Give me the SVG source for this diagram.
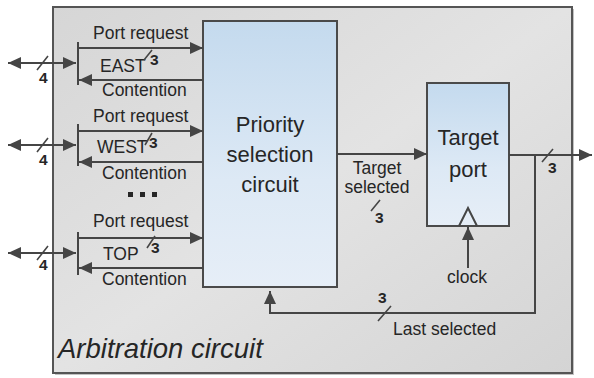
<svg xmlns="http://www.w3.org/2000/svg" width="594" height="378" viewBox="0 0 594 378">
<defs>
<linearGradient id="gOuter" x1="0" y1="0" x2="1" y2="1">
<stop offset="0" stop-color="#d6d6d6"/>
<stop offset="0.5" stop-color="#e3e3e3"/>
<stop offset="1" stop-color="#d4d4d4"/>
</linearGradient>
<linearGradient id="gBlue" x1="0" y1="0" x2="0" y2="1">
<stop offset="0" stop-color="#c4daee"/>
<stop offset="0.6" stop-color="#dde9f5"/>
<stop offset="1" stop-color="#e6eef7"/>
</linearGradient>
<marker id="ah" markerUnits="userSpaceOnUse" markerWidth="14" markerHeight="12" refX="13" refY="6" orient="auto-start-reverse">
<path d="M0,0 L13,6 L0,12 z" fill="#454545"/>
</marker>
<style>
.ln{stroke:#454545;stroke-width:2;fill:none}
.sl{stroke:#454545;stroke-width:1.6;fill:none}
.box{stroke:#4a4a4a;stroke-width:2;fill:url(#gBlue)}
text{font-family:"Liberation Sans",Arial,sans-serif;fill:#262626}
.lb{font-size:17.5px}
.big{font-size:22px;text-anchor:middle}
.n{font-size:15.5px;font-weight:bold}
</style>
</defs>
<g id="arbitration-circuit">
<rect x="55" y="9" width="519" height="366" fill="#9a9a9a" opacity="0.6"/>
<rect x="53" y="7" width="519" height="366" fill="url(#gOuter)" stroke="#555" stroke-width="2"/>
<text x="58" y="358" font-size="27.5" font-style="italic">Arbitration circuit</text>
</g>
<g id="priority-selection-circuit">
<rect class="box" x="203" y="21" width="134" height="266"/>
<text class="big" x="270" y="132">Priority</text>
<text class="big" x="270" y="162">selection</text>
<text class="big" x="270" y="192">circuit</text>
</g>
<g id="target-port">
<rect class="box" x="427" y="83" width="82" height="143"/>
<text class="big" x="468" y="145">Target</text>
<text class="big" x="468" y="177">port</text>
<polyline class="ln" points="459,226 468,208 477,226" stroke-width="1.6"/>
</g>
<g id="port-east">
<line class="ln" x1="78" y1="42" x2="78" y2="85"/>
<text class="lb" x="93" y="39">Port request</text>
<text class="lb" x="100" y="72">EAST</text>
<text class="n" x="150" y="65">3</text>
<text class="lb" x="102" y="96">Contention</text>
<text class="n" x="39" y="83">4</text>
</g>
<g id="port-west">
<line class="ln" x1="78" y1="124" x2="78" y2="166"/>
<text class="lb" x="93" y="122">Port request</text>
<text class="lb" x="97" y="153">WEST</text>
<text class="n" x="149" y="148">3</text>
<text class="lb" x="102" y="179">Contention</text>
<text class="n" x="39" y="165">4</text>
</g>
<g id="ellipsis">
<rect x="128" y="192" width="5" height="5" fill="#262626"/>
<rect x="140" y="192" width="5" height="5" fill="#262626"/>
<rect x="152" y="192" width="5" height="5" fill="#262626"/>
</g>
<g id="port-top">
<line class="ln" x1="78" y1="232" x2="78" y2="275"/>
<text class="lb" x="93" y="227">Port request</text>
<text class="lb" x="103" y="260">TOP</text>
<text class="n" x="151" y="253">3</text>
<text class="lb" x="102" y="285">Contention</text>
<text class="n" x="39" y="270">4</text>
</g>
<g id="labels-right">
<text class="lb" x="377" y="174" text-anchor="middle">Target</text>
<text class="lb" x="377" y="193" text-anchor="middle">selected</text>
<text class="n" x="375" y="223">3</text>
<text class="n" x="548" y="173">3</text>
<text class="lb" x="467" y="283" text-anchor="middle">clock</text>
<text class="n" x="378" y="303">3</text>
<text class="lb" x="393" y="335">Last selected</text>
</g>
<g id="connectors">
<path class="ln" d="M78,48 H203" marker-end="url(#ah)"/>
<path class="ln" d="M203,80 H79" marker-end="url(#ah)"/>
<path class="ln" d="M8,63 H76" marker-start="url(#ah)" marker-end="url(#ah)"/>
<path class="ln" d="M78,131 H203" marker-end="url(#ah)"/>
<path class="ln" d="M203,162 H79" marker-end="url(#ah)"/>
<path class="ln" d="M8,145 H76" marker-start="url(#ah)" marker-end="url(#ah)"/>
<path class="ln" d="M78,238 H203" marker-end="url(#ah)"/>
<path class="ln" d="M203,268 H79" marker-end="url(#ah)"/>
<path class="ln" d="M8,253 H76" marker-start="url(#ah)" marker-end="url(#ah)"/>
<path class="ln" d="M337,154 H427" marker-end="url(#ah)"/>
<path class="ln" d="M509,155 H592" marker-end="url(#ah)"/>
<path class="ln" d="M535,155 V313 H270 V291" marker-end="url(#ah)"/>
<path class="ln" d="M468,268 V227" marker-end="url(#ah)"/>
<path class="sl" d="M144,60 L152,50 M145,145 L152,133 M147,248 L155,236 M37,70 L48,56 M37,152 L48,138 M37,260 L48,246 M371,211 L380,200 M542,162 L553,149 M378,321 L391,306"/>
</g>
</svg>
